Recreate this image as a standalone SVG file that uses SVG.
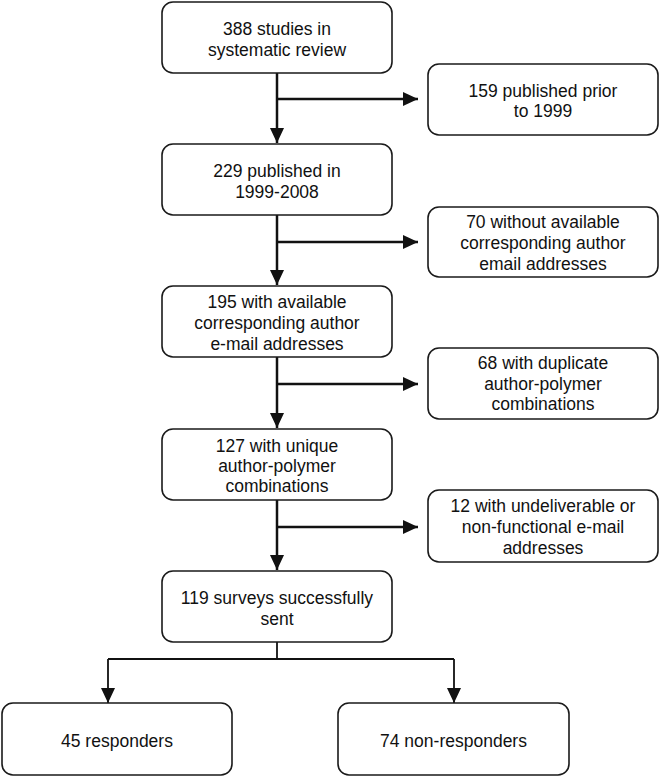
<svg xmlns="http://www.w3.org/2000/svg" width="660" height="777" viewBox="0 0 660 777">
<style>
.box{fill:#fff;stroke:#1a1a1a;stroke-width:1.6}
.t{font-family:"Liberation Sans",Arial,sans-serif;font-size:17.5px;fill:#111;text-anchor:middle}
.c{fill:none;stroke:#111;stroke-width:2.5}
.c2{fill:none;stroke:#111;stroke-width:1.8}
</style>
<defs>
<marker id="ah" markerUnits="userSpaceOnUse" markerWidth="16" markerHeight="15" refX="15" refY="7" orient="auto">
<path d="M0,0 L15,7 L0,14 z" fill="#111"/>
</marker>
</defs>
<rect width="660" height="777" fill="#fff"/>
<g id="connectors">
<path class="c" d="M277,73 V143" marker-end="url(#ah)"/>
<path class="c" d="M277,99 H418" marker-end="url(#ah)"/>
<path class="c" d="M277,215 V285" marker-end="url(#ah)"/>
<path class="c" d="M277,242 H418" marker-end="url(#ah)"/>
<path class="c" d="M277,357 V428" marker-end="url(#ah)"/>
<path class="c" d="M277,384 H418" marker-end="url(#ah)"/>
<path class="c" d="M277,500 V570" marker-end="url(#ah)"/>
<path class="c" d="M277,527 H418" marker-end="url(#ah)"/>
<path class="c2" d="M277,642 V659"/>
<path class="c2" d="M108,659 H454"/>
<path class="c2" d="M108,659 V703" marker-end="url(#ah)"/>
<path class="c2" d="M454,659 V703" marker-end="url(#ah)"/>
</g>
<g id="n388"><rect class="box" x="162" y="2" width="230" height="71" rx="11"/>
<text class="t" x="277" y="34.5">388 studies in</text><text class="t" x="277" y="55.5">systematic review</text></g>
<g id="n159"><rect class="box" x="428" y="64" width="230" height="71" rx="11"/>
<text class="t" x="543" y="96.5">159 published prior</text><text class="t" x="543" y="117">to 1999</text></g>
<g id="n229"><rect class="box" x="162" y="144" width="230" height="71" rx="11"/>
<text class="t" x="277" y="176.5">229 published in</text><text class="t" x="277" y="197.5">1999-2008</text></g>
<g id="n70"><rect class="box" x="428" y="207" width="230" height="70" rx="11"/>
<text class="t" x="543" y="227.5">70 without available</text><text class="t" x="543" y="248.5">corresponding author</text><text class="t" x="543" y="269.5">email addresses</text></g>
<g id="n195"><rect class="box" x="162" y="286" width="230" height="71" rx="11"/>
<text class="t" x="277" y="308">195 with available</text><text class="t" x="277" y="329">corresponding author</text><text class="t" x="277" y="350">e-mail addresses</text></g>
<g id="n68"><rect class="box" x="428" y="348" width="230" height="71" rx="11"/>
<text class="t" x="543" y="368.5">68 with duplicate</text><text class="t" x="543" y="389.5">author-polymer</text><text class="t" x="543" y="410">combinations</text></g>
<g id="n127"><rect class="box" x="162" y="429" width="230" height="71" rx="11"/>
<text class="t" x="277" y="451.5">127 with unique</text><text class="t" x="277" y="471.5">author-polymer</text><text class="t" x="277" y="491.5">combinations</text></g>
<g id="n12"><rect class="box" x="428" y="490" width="230" height="72" rx="11"/>
<text class="t" x="543" y="512">12 with undeliverable or</text><text class="t" x="543" y="533">non-functional e-mail</text><text class="t" x="543" y="554">addresses</text></g>
<g id="n119"><rect class="box" x="162" y="571" width="230" height="71" rx="11"/>
<text class="t" x="277" y="603.5">119 surveys successfully</text><text class="t" x="277" y="624.5">sent</text></g>
<g id="n45"><rect class="box" x="2" y="703" width="230" height="72" rx="11"/>
<text class="t" x="117" y="746.5">45 responders</text></g>
<g id="n74"><rect class="box" x="338" y="703" width="231" height="72" rx="11"/>
<text class="t" x="453.5" y="746.5">74 non-responders</text></g>
</svg>
